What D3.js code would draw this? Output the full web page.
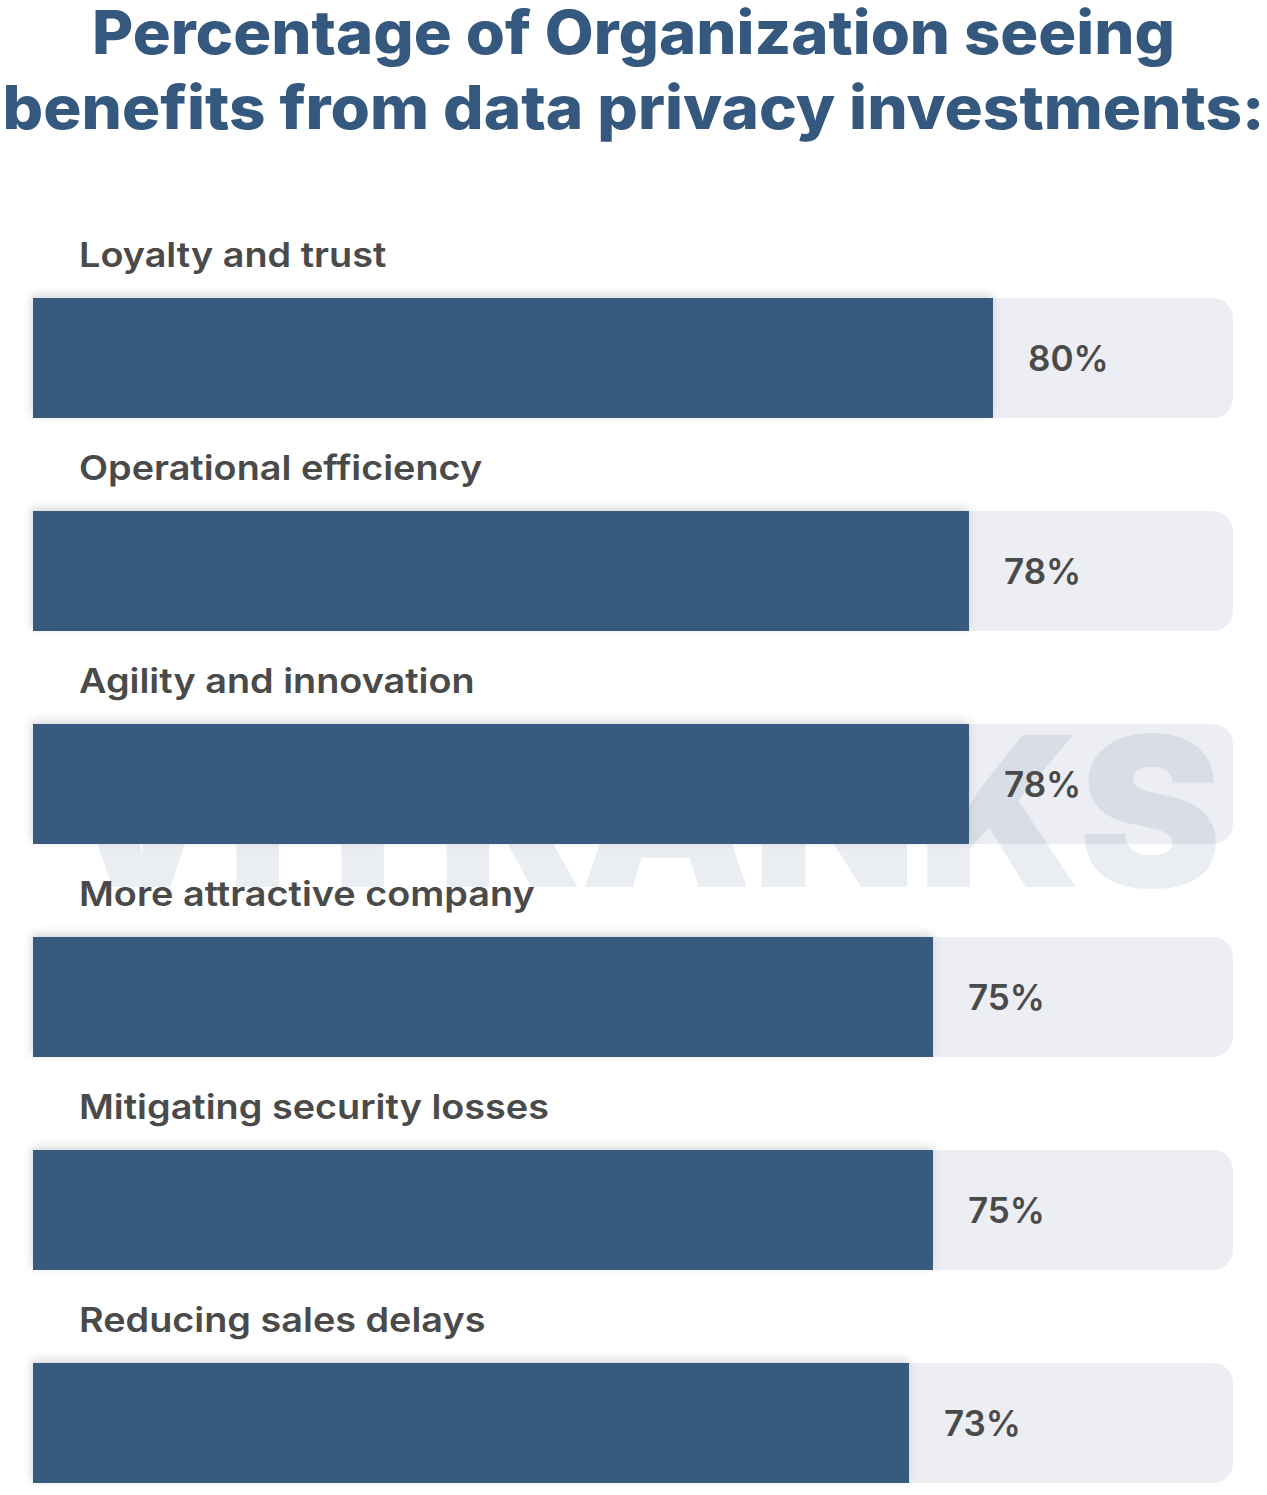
<!DOCTYPE html>
<html>
<head>
<meta charset="utf-8">
<script src="https://cdn.jsdelivr.net/npm/d3@7"></script>
<style>
  html, body { margin: 0; padding: 0; background: #ffffff; }
  svg { display: block; }
</style>
</head>
<body>
<div id="chart"></div>
<script>
// ---- data ----
const titleLines = ["Percentage of Organization seeing", "benefits from data privacy investments:"];
const categories = [
  "Loyalty and trust",
  "Operational efficiency",
  "Agility and innovation",
  "More attractive company",
  "Mitigating security losses",
  "Reducing sales delays"
];
const values = [80, 78, 78, 75, 75, 73];
const watermarkText = "VITRANKS";

// ---- layout ----
const W = 1267, H = 1495;
const svg = d3.select("#chart").append("svg")
  .attr("width", W).attr("height", H)
  .attr("viewBox", `0 0 ${W} ${H}`);

const defs = svg.append("defs");
const f = defs.append("filter").attr("id", "barShadow")
  .attr("x", "-10%").attr("y", "-30%").attr("width", "120%").attr("height", "160%");
f.append("feDropShadow")
  .attr("dx", -1).attr("dy", -3).attr("stdDeviation", 5)
  .attr("flood-color", "#000").attr("flood-opacity", 0.16);

const x = d3.scaleLinear().domain([0, 100]).range([33, 1233]);
const y = d3.scaleBand().domain(categories).range([298, 1483]).paddingInner(0.4366).paddingOuter(0);

const data = categories.map((c, i) => ({ cat: c, val: values[i] }));

// Title
const titleColor = "#34587e";
const title = svg.append("g").attr("class", "title");
const titleBase = [54, 129];
const titleWidths = [1083, 1262];
titleLines.forEach((t, i) => {
  title.append("text")
    .attr("x", W / 2).attr("y", titleBase[i])
    .attr("text-anchor", "middle")
    .attr("font-family", "Inter, 'Open Sans', sans-serif")
    .attr("font-weight", 800)
    .attr("font-size", 60)
    .attr("fill", titleColor)
    .attr("textLength", titleWidths[i])
    .attr("lengthAdjust", "spacingAndGlyphs")
    .text(t);
});

// Tracks
svg.append("g").selectAll("rect").data(data).join("rect")
  .attr("x", x(0)).attr("y", d => y(d.cat))
  .attr("width", x(100) - x(0)).attr("height", y.bandwidth())
  .attr("rx", 20).attr("ry", 20)
  .attr("fill", "#eceef3");

// Watermark
svg.append("text")
  .attr("x", 55).attr("y", 887)
  .attr("font-family", "Inter, 'DejaVu Sans', sans-serif")
  .attr("font-weight", 900)
  .attr("font-size", 209)
  .attr("fill", "#5a7394")
  .attr("fill-opacity", 0.13)
  .attr("textLength", 1167)
  .attr("lengthAdjust", "spacingAndGlyphs")
  .text(watermarkText);

// Bars
svg.append("g").selectAll("rect").data(data).join("rect")
  .attr("x", x(0)).attr("y", d => y(d.cat))
  .attr("width", d => x(d.val) - x(0)).attr("height", y.bandwidth())
  .attr("fill", "#375a7e")
  .attr("filter", "url(#barShadow)");

// Category labels
const labels = svg.append("g").selectAll("text").data(data).join("text")
  .attr("x", 79).attr("y", d => y(d.cat) - 31)
  .attr("font-family", "Inter, 'Open Sans', sans-serif")
  .attr("font-weight", 600)
  .attr("font-size", 34)
  .attr("fill", "#4a4a4a")
  .text(d => d.cat);
let maxW = 0;
labels.each(function () { maxW = Math.max(maxW, this.getComputedTextLength()); });
const k = 470 / maxW;
labels.each(function () {
  const w = this.getComputedTextLength();
  d3.select(this).attr("textLength", w * k).attr("lengthAdjust", "spacingAndGlyphs");
});

// Value labels
svg.append("g").selectAll("text").data(data).join("text")
  .attr("x", d => x(d.val) + 35)
  .attr("y", d => y(d.cat) + y.bandwidth() / 2 + 13)
  .attr("font-family", "Inter, Roboto, sans-serif")
  .attr("font-weight", 600)
  .attr("font-size", 35)
  .attr("fill", "#4a4a4a")
  .text(d => d.val + "%");
</script>
</body>
</html>
